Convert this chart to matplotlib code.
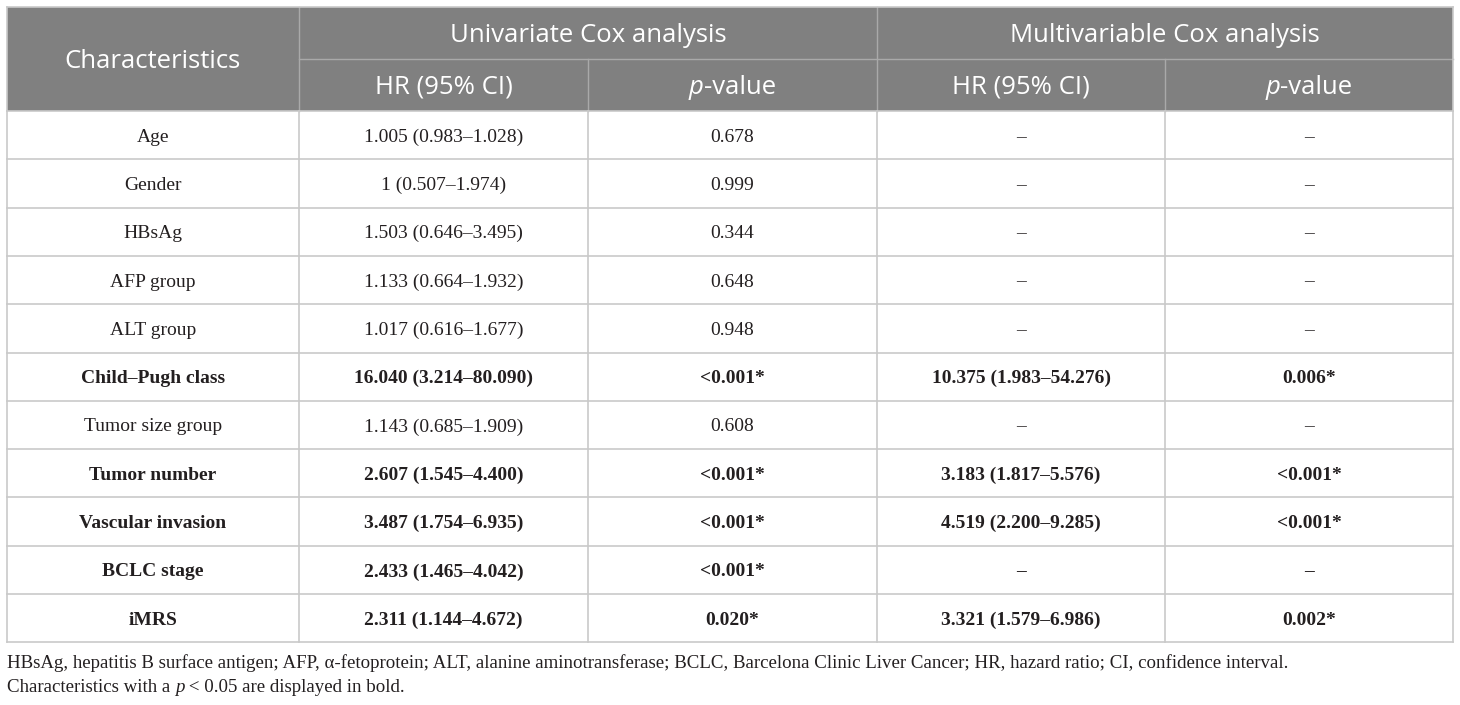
import matplotlib
matplotlib.use("Agg")
import matplotlib.pyplot as plt
from matplotlib.patches import Rectangle

# ---------------- data ----------------
characteristics = ["Age", "Gender", "HBsAg", "AFP group", "ALT group", "Child–Pugh class",
                   "Tumor size group", "Tumor number", "Vascular invasion", "BCLC stage", "iMRS"]
uni_hr = ["1.005 (0.983–1.028)", "1 (0.507–1.974)", "1.503 (0.646–3.495)", "1.133 (0.664–1.932)",
          "1.017 (0.616–1.677)", "16.040 (3.214–80.090)", "1.143 (0.685–1.909)",
          "2.607 (1.545–4.400)", "3.487 (1.754–6.935)", "2.433 (1.465–4.042)", "2.311 (1.144–4.672)"]
uni_p = ["0.678", "0.999", "0.344", "0.648", "0.948", "<0.001*", "0.608",
         "<0.001*", "<0.001*", "<0.001*", "0.020*"]
multi_hr = ["–", "–", "–", "–", "–", "10.375 (1.983–54.276)", "–",
            "3.183 (1.817–5.576)", "4.519 (2.200–9.285)", "–", "3.321 (1.579–6.986)"]
multi_p = ["–", "–", "–", "–", "–", "0.006*", "–", "<0.001*", "<0.001*", "–", "0.002*"]
bold_rows = [False, False, False, False, False, True, False, True, True, True, True]

group_headers = ["Univariate Cox analysis", "Multivariable Cox analysis"]
first_header = "Characteristics"
sub_headers = ["HR (95% CI)", "p-value"]
footnote1 = ("HBsAg, hepatitis B surface antigen; AFP, α-fetoprotein; ALT, alanine aminotransferase; "
             "BCLC, Barcelona Clinic Liver Cancer; HR, hazard ratio; CI, confidence interval.")
footnote2 = [("Characteristics with a ", "normal"), ("p", "italic"), (" < 0.05 are displayed in bold.", "normal")]

# ---------------- layout ----------------
W, H = 1460, 705
fig = plt.figure(figsize=(W / 100, H / 100), dpi=100)
ax = fig.add_axes([0, 0, 1, 1])
ax.set_xlim(0, W)
ax.set_ylim(H, 0)
ax.axis("off")
renderer = fig.canvas.get_renderer()

col_x = [7, 299, 588, 877, 1165, 1453]
top, mid, hdr_bot = 7, 59, 111
row_h = 48.3
n = len(characteristics)
tbl_bot = hdr_bot + n * row_h

HDR_BG = "#808080"
HDR_LINE = "#a9a9a9"
GRID = "#c9c9c9"
TXT = "#231f20"
SANS = "Open Sans"
SERIF = "Liberation Serif"
HFS = 18.5
BFS = 14.0
FFS = 13.6
HOFF = 2.5
BOFF = 2.0

# header background
ax.add_patch(Rectangle((col_x[0], top), col_x[-1] - col_x[0], hdr_bot - top,
                       facecolor=HDR_BG, edgecolor="none", zorder=1))


def mixed(x, y, runs, size, family, color, ha="center", weight="normal"):
    """Draw runs of text (text, style) as one line."""
    objs = []
    widths = []
    for s, st in runs:
        t = ax.text(0, y, s, fontsize=size, family=family, color=color, style=st,
                    weight=weight, va="center", ha="left", zorder=5)
        bb = t.get_window_extent(renderer)
        objs.append(t)
        widths.append(bb.width)
    total = sum(widths)
    cx = x - total / 2 if ha == "center" else x
    for t, w in zip(objs, widths):
        t.set_x(cx)
        cx += w


# header texts
ax.text((col_x[0] + col_x[1]) / 2, (top + hdr_bot) / 2 + HOFF, first_header, fontsize=HFS,
        family=SANS, color="white", ha="center", va="center", zorder=5)
for g in range(2):
    x0, x1 = col_x[1 + 2 * g], col_x[3 + 2 * g]
    ax.text((x0 + x1) / 2, (top + mid) / 2 + HOFF, group_headers[g], fontsize=HFS, family=SANS,
            color="white", ha="center", va="center", zorder=5)
    for k in range(2):
        xa, xb = col_x[1 + 2 * g + k], col_x[2 + 2 * g + k]
        cx = (xa + xb) / 2
        cy = (mid + hdr_bot) / 2 + HOFF
        if sub_headers[k].startswith("p-"):
            mixed(cx, cy, [("p", "italic"), (sub_headers[k][1:], "normal")], HFS, SANS, "white")
        else:
            ax.text(cx, cy, sub_headers[k], fontsize=HFS, family=SANS, color="white",
                    ha="center", va="center", zorder=5)

# header lines
ax.plot([col_x[1], col_x[-1]], [mid, mid], color=HDR_LINE, lw=1, zorder=3)
for xi in [col_x[1], col_x[3]]:
    ax.plot([xi, xi], [top, hdr_bot], color=HDR_LINE, lw=1, zorder=3)
for xi in [col_x[2], col_x[4]]:
    ax.plot([xi, xi], [mid, hdr_bot], color=HDR_LINE, lw=1, zorder=3)

# body grid
for i in range(n + 1):
    y = hdr_bot + i * row_h
    ax.plot([col_x[0], col_x[-1]], [y, y], color=GRID, lw=1.2, zorder=3)
for xi in col_x:
    ax.plot([xi, xi], [hdr_bot, tbl_bot], color=GRID, lw=1.2, zorder=3)
ax.plot([col_x[0], col_x[-1]], [top, top], color=GRID, lw=1.2, zorder=3)
for xi in [col_x[0], col_x[-1]]:
    ax.plot([xi, xi], [top, hdr_bot], color=GRID, lw=1.2, zorder=3)

# body text
cols = [characteristics, uni_hr, uni_p, multi_hr, multi_p]
for i in range(n):
    cy = hdr_bot + (i + 0.5) * row_h + BOFF
    w = "bold" if bold_rows[i] else "normal"
    for c, vals in enumerate(cols):
        cx = (col_x[c] + col_x[c + 1]) / 2
        s = vals[i]
        ax.text(cx, cy, s, fontsize=BFS, family=SERIF, color=TXT, weight=w,
                ha="center", va="center", zorder=5)

# footnotes
ax.text(col_x[0], 663, footnote1, fontsize=FFS, family=SERIF, color=TXT,
        ha="left", va="center", zorder=5)
mixed(col_x[0], 688, footnote2, FFS, SERIF, TXT, ha="left")

fig.savefig("out.png", dpi=100)
